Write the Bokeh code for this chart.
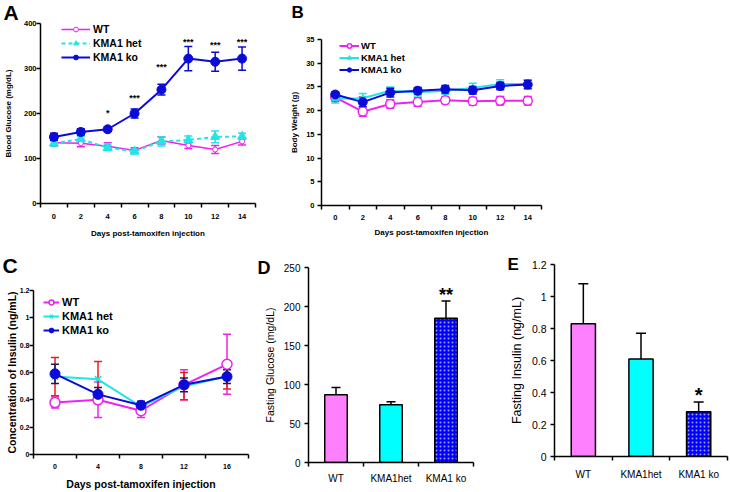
from bokeh.plotting import figure
from bokeh.layouts import column, row
from bokeh.models import (Range1d, FixedTicker, Whisker, TeeHead, ColumnDataSource,
                          Legend, LegendItem, Title)
from bokeh.embed import file_html
from bokeh.resources import INLINE
from bokeh.core.properties import value

FONT = "Liberation Sans"

# ---------------- data ----------------
days_a = [0, 2, 4, 6, 8, 10, 12, 14]
glu_wt = [135, 134, 127, 118, 140, 129, 120, 138]
glu_wt_err = [7, 8, 8, 6, 8, 7, 9, 8]
glu_het = [134, 143, 124, 116, 138, 141, 148, 149]
glu_het_err = [6, 6, 6, 6, 10, 9, 13, 7]
glu_ko = [148, 159, 165, 200, 253, 322, 315, 322]
glu_ko_err = [8, 7, 5, 10, 12, 27, 21, 26]
star_a_days = [4, 6, 8, 10, 12, 14]
star_a_y = [205, 238, 307, 364, 357, 364]
star_a_txt = ["*", "***", "***", "***", "***", "***"]
yticks_a = [0, 100, 200, 300, 400]

days_b = [0, 2, 4, 6, 8, 10, 12, 14]
bw_wt = [22.8, 19.8, 21.4, 21.8, 22.2, 22.0, 22.1, 22.1]
bw_wt_err = [0.8, 1.0, 0.9, 0.9, 0.7, 0.8, 0.9, 0.9]
bw_het = [22.5, 22.6, 24.2, 23.9, 24.2, 24.8, 25.6, 25.6]
bw_het_err = [0.9, 1.0, 0.8, 0.8, 0.8, 1.0, 0.9, 0.8]
bw_ko = [23.4, 21.8, 23.8, 24.2, 24.5, 24.3, 25.2, 25.5]
bw_ko_err = [0.6, 1.0, 0.9, 0.7, 0.8, 0.8, 0.8, 0.9]
yticks_b = [0, 5, 10, 15, 20, 25, 30, 35]

days_c = [0, 4, 8, 12, 16]
ins_wt = [0.38, 0.40, 0.32, 0.51, 0.66]
ins_wt_err = [0.04, 0.13, 0.05, 0.11, 0.22]
ins_het = [0.57, 0.55, 0.35, 0.50, 0.57]
ins_het_err = [0.14, 0.13, 0.03, 0.10, 0.09]
ins_ko = [0.59, 0.44, 0.36, 0.51, 0.57]
ins_ko_err = [0.07, 0.05, 0.03, 0.05, 0.05]
yticks_c = [0, 0.2, 0.4, 0.6, 0.8, 1, 1.2]
yticklabels_c = ["0", "0.2", "0.4", "0.6", "0.8", "1", "1.2"]

groups = ["WT", "KMA1het", "KMA1 ko"]
fg = [87, 74, 185]
fg_err = [9, 4, 22]
fi = [0.83, 0.61, 0.28]
fi_err = [0.25, 0.16, 0.06]
yticks_d = [0, 50, 100, 150, 200, 250]
yticks_e = [0, 0.2, 0.4, 0.6, 0.8, 1, 1.2]
yticklabels_e = ["0", "0.2", "0.4", "0.6", "0.8", "1", "1.2"]

MAG = "#ee22ee"
CYA = "#22e5e5"
BLU = "#0b0bd8"


def make_fig(w, h, xr, yr, left, right, top, bottom):
    p = figure(width=w, height=h, x_range=Range1d(*xr), y_range=Range1d(*yr),
               output_backend="svg", toolbar_location=None, title=None,
               min_border_left=left, min_border_right=right,
               min_border_top=top, min_border_bottom=bottom)
    p.frame_align = False
    p.grid.visible = False
    p.outline_line_color = None
    return p


def style_axis(ax, ticks, minor, size, bold, lsize, lbold, major_out, minor_out,
               standoff, lstandoff, lw=1.5, overrides=None, label=""):
    ax.ticker = FixedTicker(ticks=ticks, minor_ticks=minor)
    ax.axis_line_width = lw
    ax.axis_line_color = "black"
    ax.major_tick_line_width = lw
    ax.minor_tick_line_width = lw
    ax.major_tick_out = major_out
    ax.major_tick_in = 0
    ax.minor_tick_out = minor_out
    ax.minor_tick_in = 0
    ax.major_label_text_font = FONT
    ax.major_label_text_font_size = f"{size}px"
    ax.major_label_text_font_style = "bold" if bold else "normal"
    ax.major_label_text_color = "black"
    ax.major_label_standoff = standoff
    ax.axis_label = label
    ax.axis_label_text_font = FONT
    ax.axis_label_text_font_size = f"{lsize}px"
    ax.axis_label_text_font_style = "bold" if lbold else "normal"
    ax.axis_label_text_color = "black"
    ax.axis_label_standoff = lstandoff
    if overrides:
        ax.major_label_overrides = overrides


def errbars(p, x, y, e, color, size, lw=1.5, both=True):
    src = ColumnDataSource(dict(x=x, up=[a + b for a, b in zip(y, e)],
                                lo=[a - b for a, b in zip(y, e)] if both else list(y)))
    w = Whisker(source=src, base="x", upper="up", lower="lo", line_color=color, line_width=lw,
                upper_head=TeeHead(size=size, line_color=color, line_width=lw),
                lower_head=TeeHead(size=size, line_color=color, line_width=lw) if both else None)
    p.add_layout(w)


def letter(p, txt, offset, standoff, size, valign="bottom"):
    p.add_layout(Title(text=txt, align="left", offset=offset, standoff=standoff,
                       vertical_align=valign,
                       text_font=FONT, text_font_size=f"{size}px", text_font_style="bold",
                       text_color="black"), "above")


def legend(p, items, loc, gw, gh, spacing, fsize, standoff):
    lg = Legend(items=items, location=loc, glyph_width=gw, glyph_height=gh,
                label_height=gh, label_width=10, spacing=spacing, padding=0, margin=0,
                label_standoff=standoff, border_line_color=None, background_fill_alpha=0,
                label_text_font=FONT, label_text_font_style="bold",
                label_text_font_size=f"{fsize}px", label_text_color="black")
    p.add_layout(lg)


# ---------------- A ----------------
pA = make_fig(262, 240, (-1, 15), (0, 400), 39, 7, 23, 35)
style_axis(pA.xaxis[0], days_a, [-1, 1, 3, 5, 7, 9, 11, 13, 15], 7.5, True, 8, True,
           0, 4, 6, 7, label="Days post-tamoxifen injection")
style_axis(pA.yaxis[0], yticks_a, [], 7.5, True, 8, True, 4, 0, 0, 8,
           label="Blood Glucose (mg/dL)")
errbars(pA, days_a, glu_wt, glu_wt_err, MAG, 8)
errbars(pA, days_a, glu_het, glu_het_err, CYA, 8)
errbars(pA, days_a, glu_ko, glu_ko_err, BLU, 8)
lw_ = pA.line(days_a, glu_wt, line_color=MAG, line_width=1.5)
sw_ = pA.scatter(days_a, glu_wt, marker="circle", size=5, fill_color="white", line_color=MAG, line_width=1)
lh_ = pA.line(days_a, glu_het, line_color=CYA, line_width=2, line_dash="4 3")
sh_ = pA.scatter(days_a, glu_het, marker="triangle", size=9, fill_color=CYA, line_color=CYA)
lk_ = pA.line(days_a, glu_ko, line_color=BLU, line_width=2)
sk_ = pA.scatter(days_a, glu_ko, marker="circle", size=9, fill_color=BLU, line_color=BLU)
pA.text(x=star_a_days, y=star_a_y, text=star_a_txt, text_align="center", text_baseline="middle",
        text_font=value(FONT), text_font_size="9px", text_font_style="bold", y_offset=2,
        text_color="black")
legend(pA, [LegendItem(label="WT", renderers=[lw_, sw_]),
            LegendItem(label="KMA1 het", renderers=[lh_, sh_]),
            LegendItem(label="KMA1 ko", renderers=[lk_, sk_])],
       (21, 140), 29, 12, 2, 10.5, 3)
letter(pA, "A", -37, -4, 21, "top")

# ---------------- B ----------------
pB = make_fig(468, 240, (-1, 15), (0, 35), 59, 189, 39, 35)
style_axis(pB.xaxis[0], days_b, [-1, 1, 3, 5, 7, 9, 11, 13, 15], 7.5, True, 8, True,
           0, 4, 5, 5, label="Days post-tamoxifen injection")
style_axis(pB.yaxis[0], yticks_b, [], 7.5, True, 8, True, 4, 0, 3, 4,
           label="Body Weight (g)")
errbars(pB, days_b, bw_wt, bw_wt_err, MAG, 8)
errbars(pB, days_b, bw_het, bw_het_err, CYA, 8)
errbars(pB, days_b, bw_ko, bw_ko_err, BLU, 8)
bw1 = pB.line(days_b, bw_wt, line_color=MAG, line_width=2)
bs1 = pB.scatter(days_b, bw_wt, marker="circle", size=9, fill_color="white", line_color=MAG, line_width=1.5)
bw2 = pB.line(days_b, bw_het, line_color=CYA, line_width=2)
bs2 = pB.scatter(days_b, bw_het, marker="triangle", size=6, fill_color=CYA, line_color=CYA)
bw3 = pB.line(days_b, bw_ko, line_color=BLU, line_width=2)
bs3 = pB.scatter(days_b, bw_ko, marker="circle", size=9, fill_color=BLU, line_color=BLU)
legend(pB, [LegendItem(label="WT", renderers=[bw1, bs1]),
            LegendItem(label="KMA1 het", renderers=[bw2, bs2]),
            LegendItem(label="KMA1 ko", renderers=[bw3, bs3])],
       (18, 130), 20, 11, 1, 9.5, 2)
letter(pB, " ", 0, -5, 17)          # spacer between frame and the panel letter
letter(pB, "B", -30, 0, 17, "top")

# ---------------- C ----------------
pC = make_fig(250, 252, (-2, 18), (0, 1.2), 33, 2, 50, 37)
style_axis(pC.xaxis[0], days_c, [-2, 2, 6, 10, 14, 18], 7, True, 10.5, True,
           0, 4, 5, 6, label="Days post-tamoxifen injection")
style_axis(pC.yaxis[0], yticks_c, [], 7, True, 10.5, True, 4, 0, 0, -1,
           overrides=dict(zip(yticks_c, yticklabels_c)),
           label="Concentration of Insulin (ng/mL)")
errbars(pC, days_c, ins_wt, ins_wt_err, MAG, 8)
errbars(pC, days_c, ins_het, ins_het_err, "#ee1c1c", 8)
errbars(pC, days_c, ins_ko, ins_ko_err, "#1a1a5e", 8)
c1 = pC.line(days_c, ins_wt, line_color=MAG, line_width=2)
cs1 = pC.scatter(days_c, ins_wt, marker="circle", size=10, fill_color="white", line_color=MAG, line_width=1.5)
c2 = pC.line(days_c, ins_het, line_color=CYA, line_width=2)
cs2 = pC.scatter(days_c, ins_het, marker="x", size=9, line_color=CYA, line_width=1.5)
c3 = pC.line(days_c, ins_ko, line_color=BLU, line_width=2)
cs3 = pC.scatter(days_c, ins_ko, marker="circle", size=10, fill_color=BLU, line_color=BLU)
legend(pC, [LegendItem(label="WT", renderers=[c1, cs1]),
            LegendItem(label="KMA1 het", renderers=[c2, cs2]),
            LegendItem(label="KMA1 ko", renderers=[c3, cs3])],
       (10, 118), 16, 12, 2, 11, 3)
letter(pC, "C", -31, 24, 21, "top")

# ---------------- D ----------------
xpos = [0, 1, 2]
bar_colors = ["#ff80ff", "#00ffff", "#0000ff"]
bar_hatch = ["blank", "blank", "dot"]

pD = make_fig(240, 252, (-0.5, 2.5), (0, 250), 58, 17, 27, 30)
style_axis(pD.xaxis[0], xpos, [-0.5, 0.5, 1.5, 2.5], 10, False, 10, False,
           0, 4, 6, 5, overrides=dict(zip(xpos, groups)))
style_axis(pD.yaxis[0], yticks_d, [], 10, False, 10.5, False, 4, 0, 4, 5,
           label="Fasting Glucose (mg/dL)")
errbars(pD, xpos, fg, fg_err, "black", 9, both=False)
srcD = ColumnDataSource(dict(x=xpos, top=fg, color=bar_colors, hatch=bar_hatch))
pD.vbar(x="x", top="top", width=0.41, source=srcD, fill_color="color", line_color="black",
        line_width=1.5, hatch_pattern="hatch", hatch_color="white", hatch_scale=4,
        hatch_weight=1, hatch_alpha=0.6)
pD.text(x=[2], y=[220], text=["**"], text_align="center", text_baseline="middle",
        text_font=value(FONT), text_font_size="18px", text_font_style="bold", y_offset=4)
letter(pD, "D", -51, -20, 18)

# ---------------- E ----------------
pE = make_fig(240, 252, (-0.5, 2.5), (0, 1.2), 64, 3, 24, 36)
style_axis(pE.xaxis[0], xpos, [-0.5, 0.5, 1.5, 2.5], 10, False, 10, False,
           0, 4, 8, 5, overrides=dict(zip(xpos, groups)))
style_axis(pE.yaxis[0], yticks_e, [], 10.5, False, 12.5, False, 4, 0, 4, 5,
           overrides=dict(zip(yticks_e, yticklabels_e)),
           label="Fasting Insulin (ng/mL)")
errbars(pE, xpos, fi, fi_err, "black", 10, both=False)
srcE = ColumnDataSource(dict(x=xpos, top=fi, color=bar_colors, hatch=bar_hatch))
pE.vbar(x="x", top="top", width=0.42, source=srcE, fill_color="color", line_color="black",
        line_width=1.5, hatch_pattern="hatch", hatch_color="white", hatch_scale=4,
        hatch_weight=1, hatch_alpha=0.6)
pE.text(x=[2], y=[0.41], text=["*"], text_align="center", text_baseline="middle",
        text_font=value(FONT), text_font_size="20px", text_font_style="bold", y_offset=4)
letter(pE, "E", -47, -19, 17)

layout = column(row(pA, pB), row(pC, pD, pE))
open("out.html", "w").write(file_html(layout, INLINE))
